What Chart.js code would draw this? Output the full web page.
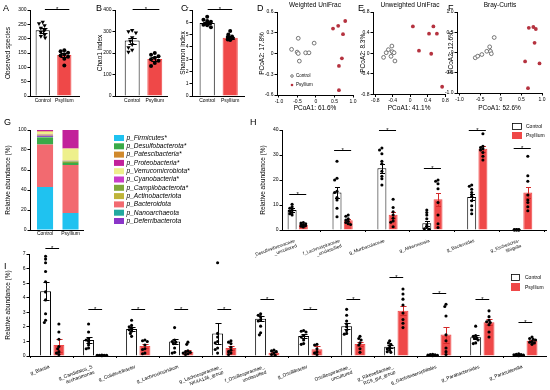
<!DOCTYPE html>
<html><head><meta charset="utf-8">
<script src="https://cdn.jsdelivr.net/npm/chart.js@4.4.1/dist/chart.umd.min.js"></script>
<style>
html,body{margin:0;padding:0;background:#fff;}
#root{position:relative;width:550px;height:390px;overflow:hidden;font-family:'Liberation Sans',Arial,sans-serif;}
canvas{position:absolute;}
.lt{position:absolute;font-size:9px;line-height:9px;color:#000;}
</style></head><body><div id="root"></div>
<script>
// ===================== DATA =====================
const groupNames = ['Control', 'Psyllium'];
// A: Observed species
const obsMean = [229, 143];
const obsSem = [8, 6];
const obsCtrl = [258, 253, 246, 237, 229, 222, 214, 208, 203];
const obsPsy = [160, 156, 151, 146, 141, 137, 130, 106];
// B: Chao1 index
const chaoMean = [258, 172];
const chaoSem = [14, 8];
const chaoCtrl = [306, 300, 294, 272, 256, 240, 226, 214, 205];
const chaoPsy = [200, 192, 185, 178, 171, 164, 154, 140];
// C: Shannon index
const shanMean = [5.95, 4.75];
const shanSem = [0.08, 0.08];
const shanCtrl = [6.45, 6.2, 6.1, 6.05, 5.95, 5.9, 5.8, 5.75, 5.6];
const shanPsy = [5.3, 5.0, 4.85, 4.8, 4.75, 4.7, 4.6, 4.55];
// D: Weighted UniFrac PCoA
const wufCtrl = [[-0.66, 0.06], [-0.48, 0.22], [-0.51, 0.02], [-0.48, 0.0], [-0.45, -0.11], [-0.28, 0.01], [-0.19, 0.01], [-0.05, 0.15]];
const wufPsy = [[0.46, 0.36], [0.60, 0.40], [0.79, 0.47], [0.73, 0.28], [0.70, -0.07], [0.62, -0.18], [0.62, -0.53]];
// E: Unweighted UniFrac PCoA
const uufCtrl = [[-0.61, -0.08], [-0.55, 0.01], [-0.50, 0.07], [-0.42, 0.14], [-0.41, 0.03], [-0.44, -0.06], [-0.37, 0.01], [-0.35, -0.15]];
const uufPsy = [[0.06, 0.52], [0.20, 0.05], [0.43, 0.38], [0.53, 0.52], [0.61, 0.38], [0.48, -0.01], [0.73, -0.65]];
// F: Bray-Curtis PCoA
const bcCtrl = [[-0.62, -0.13], [-0.56, -0.09], [-0.46, -0.05], [-0.34, 0.03], [-0.27, 0.14], [-0.25, 0.03], [-0.23, -0.03], [-0.16, 0.37]];
const bcPsy = [[0.68, 0.61], [0.79, 0.63], [0.85, 0.58], [0.82, 0.24], [0.59, -0.22], [0.94, -0.27], [0.66, -0.88]];
const pcoaTicks1 = [-1, -0.5, 0, 0.5, 1];
const pcoaLabels1 = ['-1.0', '-0.5', '0', '0.5', '1.0'];
const wufYTicks = [-0.6, -0.3, 0, 0.3, 0.6];
const wufYLabels = ['-0.6', '-0.3', '0', '0.3', '0.6'];
const uufTicks = [-0.8, -0.4, 0, 0.4, 0.8];
const uufLabels = ['-0.8', '-0.4', '0', '0.4', '0.8'];
// G: phylum composition
const phyla = ['p_Firmicutes*', 'p_Desulfobacterota*', 'p_Patescibacteria*', 'p_Proteobacteria*', 'p_Verrucomicrobiota*', 'p_Cyanobacteria*', 'p_Campilobacterota*', 'p_Actinobacteriota', 'p_Bacteroidota', 'p_Nanoarchaeota', 'p_Deferribacterota'];
const phylaColors = ['#1FC2F0', '#3AAA48', '#D0892C', '#C2219A', '#EEF08C', '#C93CC9', '#7FA83A', '#BFB43A', '#F26A70', '#22A9A0', '#8A35C8'];
const phylaCtrl = [43, 7, 0.6, 1.2, 2.5, 0.4, 0.3, 1.0, 42.5, 0.3, 1.2];
const phylaPsy = [17, 2, 0.1, 18.5, 12, 0.2, 1.5, 0.5, 48, 0.1, 0.1];
const stackOrder = [0, 8, 1, 6, 9, 10, 7, 5, 4, 2, 3];
// H: genera (%)
const hCats = [['f_Desulfovibrionaceae', '_uncultured'], ['f_Lachnospiraceae', '_unclassified'], 'g_Muribaculaceae', 'g_Akkermansia', 'g_Bacteroides', ['g_Escherichia-', 'Shigella']];
const hCtrlMean = [8, 15, 24.7, 2.7, 13.2, 0.1];
const hCtrlSem = [0.9, 2.2, 1.9, 1.0, 1.3, 0.05];
const hPsyMean = [2.0, 3.9, 6.1, 12.3, 32.5, 15.0];
const hPsySem = [0.3, 0.5, 1.3, 2.7, 1.1, 2.3];
const hCtrlPts = [[10.3, 9.3, 8.7, 8.0, 7.5, 7.0, 6.5, 6.0], [27.5, 20.7, 20, 15.5, 15, 13, 12, 8.7, 5.3], [32.8, 32, 30.5, 27.5, 26.5, 23.5, 21.5, 20.5, 18], [8, 7, 6, 4.5, 2, 1, 0.5, 0.3, 0.2], [18, 17.5, 16.3, 15, 13.5, 11.7, 9.7, 8, 6.5], [0.15, 0.12, 0.1, 0.1, 0.08, 0.06, 0.05, 0.05, 0.04]];
const hPsyPts = [[3, 2.8, 2.5, 2.2, 2, 1.7, 1.5, 1.2], [6, 5.5, 4.5, 4, 3.5, 3, 2.5, 2.2], [12.3, 9, 7.3, 6, 4.7, 3.6, 3.1, 1.3], [20, 19.5, 18.5, 16.5, 11, 6, 2.5, 1], [38.5, 33.5, 33, 32.5, 32, 31, 29.5, 28], [29.5, 21.7, 19.5, 14, 12, 11, 9.3, 7.7]];
const hSigY = [14.4, 32, 40, 24.8, 40, 33];
// I: genera (%)
const iCats = ['g_Blautia', ['g_Candidatus_S', 'accharimonas'], 'g_Colidextribacter', 'g_Lachnoclostridium', ['g_Lachnospiraceae_', 'NK4A136_group'], ['f_Oscillospiraceae_', 'unclassified'], 'g_Oscillibacter', ['Oscillospiraceae_', 'uncultured'], ['g_Rikenellaceae_', 'RC9_gut_group'], 'g_Gastranaerophilales', 'g_Parabacteroides', 'g_Parasutterella'];
const iCtrlMean = [4.45, 1.1, 1.85, 1.0, 1.55, 2.55, 1.37, 2.05, 0.64, 0.05, 1.28, 0.06];
const iCtrlSem = [0.6, 0.2, 0.12, 0.17, 0.7, 0.18, 0.13, 0.2, 0.1, 0.02, 0.13, 0.02];
const iPsyMean = [0.75, 0.05, 0.68, 0.3, 0.55, 0.22, 0.46, 0.82, 3.1, 1.47, 2.31, 1.05];
const iPsySem = [0.45, 0.01, 0.13, 0.1, 0.12, 0.05, 0.2, 0.15, 0.3, 0.55, 0.2, 0.06];
const iCtrlPts = [
  [6.85, 6.65, 6.4, 5.8, 5.1, 4.4, 3.85, 2.9, 2.45, 2.3],
  [2.2, 1.65, 1.2, 1.1, 1.0, 0.75, 0.55, 0.5],
  [2.45, 2.1, 2.0, 1.9, 1.8, 1.7, 1.55, 1.35],
  [1.95, 1.1, 1.0, 0.95, 0.85, 0.55, 0.25, 0.2],
  [6.4, 1.55, 1.3, 1.0, 0.9, 0.55, 0.45, 0.2],
  [2.9, 2.8, 2.7, 2.5, 2.4, 2.05, 1.6, 1.45],
  [1.75, 1.7, 1.65, 1.4, 1.3, 1.1, 0.85, 0.8],
  [3.2, 2.8, 2.4, 2.2, 2.0, 1.75, 1.55, 1.5],
  [1.05, 0.9, 0.8, 0.6, 0.5, 0.4, 0.3, 0.25],
  [0.12, 0.1, 0.08, 0.06, 0.05, 0.04, 0.03, 0.02],
  [2.05, 1.4, 1.35, 1.25, 1.2, 1.1, 0.9, 0.85],
  [0.15, 0.12, 0.1, 0.08, 0.06, 0.05, 0.03, 0.02]
];
const iPsyPts = [
  [2.2, 1.65, 1.15, 0.65, 0.5, 0.3, 0.2, 0.1],
  [0.06, 0.05, 0.05, 0.04, 0.04, 0.03, 0.03, 0.02],
  [1.1, 1.05, 1.0, 0.75, 0.5, 0.45, 0.2, 0.15],
  [0.95, 0.8, 0.35, 0.3, 0.25, 0.2, 0.15, 0.1],
  [1.05, 0.95, 0.85, 0.6, 0.4, 0.3, 0.2, 0.1],
  [0.4, 0.35, 0.3, 0.2, 0.1, 0.05],
  [0.8, 0.75, 0.5, 0.3, 0.2, 0.1],
  [1.35, 1.2, 1.1, 0.9, 0.75, 0.5, 0.25],
  [4.6, 4.25, 3.9, 3.5, 2.95, 2.5, 2.25, 1.95],
  [3.55, 3.4, 2.75, 1.45, 1.05, 0.55, 0.3, 0.1],
  [3.1, 2.7, 2.45, 2.35, 2.3, 2.15, 1.65, 1.3],
  [1.3, 1.2, 1.15, 1.1, 1.0, 0.95, 0.9, 0.8]
];
const iSigY = [7.43, 3.23, 3.23, 3.23, 3.23, 3.9, 3.23, 3.9, 5.4, 4.35, 3.9, 2.3];

// ===================== STYLE / LAYOUT =====================
const FONT = "'Liberation Sans', Arial, Helvetica, sans-serif";
Chart.defaults.font.family = FONT;
Chart.defaults.color = '#000';
Chart.defaults.animation = false;
const RED = '#EF4848', RED_DARK = '#D42A2A', PCOA_RED = '#B5323F';
const root = document.getElementById('root');

function mkCanvas(l, t, w, h) {
  const c = document.createElement('canvas');
  c.width = w; c.height = h;
  c.style.left = l + 'px'; c.style.top = t + 'px';
  c.style.width = w + 'px'; c.style.height = h + 'px';
  root.appendChild(c);
  return c;
}
function letter(t, x, y) {
  const d = document.createElement('div');
  d.className = 'lt'; d.textContent = t;
  d.style.left = x + 'px'; d.style.top = y + 'px';
  root.appendChild(d);
}

const deco = {
  id: 'deco',
  afterDatasetDraw(chart, args) {
    const ds = chart.data.datasets[args.index];
    if (!ds.sems) return;
    const ctx = chart.ctx, ys = chart.scales.y;
    ctx.save();
    ctx.strokeStyle = ds.errColor; ctx.lineWidth = 1;
    args.meta.data.forEach((bar, i) => {
      const m = ds.data[i].y, e = ds.sems[i];
      if (!e) return;
      const x = Math.round(bar.x) + 0.5;
      const hw = Math.max(2, bar.width * 0.28);
      const yt = Math.round(ys.getPixelForValue(m + e)) + 0.5;
      const yb = Math.round(ys.getPixelForValue(Math.max(ys.min, m - e))) + 0.5;
      ctx.beginPath();
      ctx.moveTo(x, yb); ctx.lineTo(x, yt);
      ctx.moveTo(x - hw, yt); ctx.lineTo(x + hw, yt);
      ctx.moveTo(x - hw, yb); ctx.lineTo(x + hw, yb);
      ctx.stroke();
    });
    ctx.restore();
  },
  afterDraw(chart, args, opts) {
    const ctx = chart.ctx, xs = chart.scales.x, ys = chart.scales.y;
    const ox = opts.ox || 0, oy = opts.oy || 0;
    ctx.save();
    (opts.sig || []).forEach(s => {
      const x1 = xs.getPixelForValue(s.x1), x2 = xs.getPixelForValue(s.x2);
      const y = Math.round(ys.getPixelForValue(s.y)) + 0.5;
      ctx.strokeStyle = '#000'; ctx.lineWidth = 1;
      ctx.beginPath(); ctx.moveTo(x1, y); ctx.lineTo(x2, y); ctx.stroke();
      ctx.fillStyle = '#000'; ctx.font = '6px ' + FONT;
      ctx.textAlign = 'center'; ctx.textBaseline = 'alphabetic';
      ctx.fillText('*', (x1 + x2) / 2, y + 1.5);
    });
    (opts.marks || []).forEach(m => {
      ctx.lineWidth = m.lw || 0.8;
      if (m.type === 'rect') {
        ctx.fillStyle = m.fill; ctx.fillRect(m.x - ox, m.y - oy, m.w, m.h);
        if (m.stroke) { ctx.strokeStyle = m.stroke; ctx.strokeRect(m.x - ox + 0.5, m.y - oy + 0.5, m.w - 1, m.h - 1); }
      } else {
        ctx.beginPath(); ctx.arc(m.x - ox, m.y - oy, m.r, 0, Math.PI * 2);
        ctx.fillStyle = m.fill; ctx.fill();
        if (m.stroke) { ctx.strokeStyle = m.stroke; ctx.stroke(); }
      }
    });
    (opts.texts || []).forEach(t => {
      ctx.fillStyle = t.color || '#000';
      ctx.font = (t.italic ? 'italic ' : '') + t.size + 'px ' + FONT;
      ctx.textAlign = t.align || 'left'; ctx.textBaseline = 'middle';
      ctx.fillText(t.t, t.x - ox, t.y - oy);
    });
    ctx.restore();
  }
};
Chart.register(deco);

// horizontal placement of dots (Prism-like swarm), capped to a maximum half-width
function swarm(vals, cx, xppu, yppu, minD, maxOff) {
  const placed = [], out = [];
  vals.forEach(v => {
    const py = v * yppu;
    let best = null;
    for (let k = 0; k < 60; k++) {
      const off = (k === 0 ? 0 : (k % 2 ? -1 : 1) * Math.ceil(k / 2)) * minD * 0.5;
      if (Math.abs(off) > maxOff) break;
      if (placed.every(p => Math.hypot(p[0] - off, p[1] - py) >= minD)) { best = off; break; }
    }
    if (best === null) best = ((placed.length % 3) - 1) * maxOff * 0.5;
    placed.push([best, py]); out.push(cx + best / xppu);
  });
  return out;
}

function xAxisCfg(o) {
  const ax = {
    type: 'linear', min: o.xmin, max: o.xmax, offset: false,
    ticks: { autoSkip: false, minRotation: o.rot || 0, maxRotation: o.rot || 0, padding: o.xpad, labelOffset: o.xlo || 0, font: { size: o.xfs }, color: '#000' },
    grid: { display: true, drawOnChartArea: false, drawTicks: true, tickLength: o.xtl, color: '#000', lineWidth: 1 },
    border: { display: true, color: '#000', width: 1 },
    afterFit: s => { s.height = o.xH; s.paddingLeft = 0; s.paddingRight = 0; }
  };
  if (o.cats) {
    ax.afterBuildTicks = s => { s.ticks = o.cats.map((c, i) => ({ value: i })); };
    ax.ticks.callback = (v, i) => o.cats[i];
  } else {
    ax.afterBuildTicks = s => { s.ticks = o.xticks.map(v => ({ value: v })); };
    ax.ticks.callback = (v, i) => o.xlabels[i];
  }
  if (o.xTitle) {
    const lh = o.xtfs * 1.2;
    ax.title = { display: true, text: o.xTitle, font: { size: o.xtfs }, color: '#000', padding: { top: 0, bottom: (o.oy + o.H) - o.xTitleY - lh / 2 } };
  }
  return ax;
}
function yAxisCfg(o) {
  const lh = o.ytfs * 1.2;
  const ax = {
    type: 'linear', min: o.ymin, max: o.ymax,
    ticks: { stepSize: o.ystep, font: { size: o.yfs }, padding: 1, color: '#000', autoSkip: false },
    grid: { display: true, drawOnChartArea: false, drawTicks: true, tickLength: 2.5, color: '#000', lineWidth: 1 },
    border: { display: true, color: '#000', width: 1 },
    title: { display: true, text: o.yTitle, font: { size: o.ytfs }, color: '#000', padding: { top: o.yTitleX - o.ox - lh / 2, bottom: 0 } },
    afterFit: s => { s.width = o.yW; s.paddingTop = 0; s.paddingBottom = 0; }
  };
  if (o.yticks) {
    ax.afterBuildTicks = s => { s.ticks = o.yticks.map(v => ({ value: v })); };
    ax.ticks.callback = (v, i) => o.ylabels[i];
  }
  return ax;
}
function frame(o) {
  o.W = o.yW + (o.R - o.L) + o.pr; o.H = o.pt + (o.B - o.T) + o.xH;
  o.ox = o.L - o.yW; o.oy = o.T - o.pt;
  return mkCanvas(o.ox, o.oy, o.W, o.H);
}
function baseOpts(o, decoOpts) {
  return {
    responsive: false, animation: false, devicePixelRatio: 1,
    layout: { padding: { top: o.pt, right: o.pr, left: 0, bottom: 0 } },
    plugins: { legend: { display: false }, tooltip: { enabled: false }, title: { display: false }, deco: Object.assign({ ox: o.ox, oy: o.oy }, decoOpts) },
    scales: { x: xAxisCfg(o), y: yAxisCfg(o) }
  };
}

function barPanel(o) {
  const cv = frame(o);
  const xppu = (o.R - o.L) / (o.xmax - o.xmin), yppu = (o.B - o.T) / (o.ymax - o.ymin);
  const datasets = [];
  o.series.forEach((s, si) => {
    const shift = o.grouped ? (si === 0 ? -1 : 1) * o.cp / 4 : 0;
    datasets.push({
      type: 'bar', label: s.label, data: s.means.map((m, i) => ({ x: s.xs[i], y: m })),
      backgroundColor: s.fill, borderColor: s.border, borderWidth: 1, grouped: o.grouped,
      categoryPercentage: o.cp, barPercentage: o.bp, order: 2, sems: s.sems, errColor: s.err
    });
    const pts = [];
    s.pts.forEach((arr, i) => {
      const px = swarm(arr, s.xs[i] + shift, xppu, yppu, o.minD, o.maxOff);
      arr.forEach((v, k) => pts.push({ x: px[k], y: v }));
    });
    datasets.push({
      type: 'scatter', data: pts, pointStyle: s.ps, pointRotation: s.rot || 0,
      pointRadius: s.r, pointBackgroundColor: '#000', pointBorderColor: '#000', pointBorderWidth: 0, order: 0, clip: false
    });
  });
  const sig = (o.sig || []);
  new Chart(cv, { type: 'bar', data: { datasets }, options: baseOpts(o, { sig, marks: o.marks, texts: o.texts }) });
}

function pcoaPanel(o) {
  const cv = frame(o);
  new Chart(cv, {
    type: 'scatter',
    data: { datasets: [
      { label: groupNames[0], data: o.ctrl.map(p => ({ x: p[0], y: p[1] })), pointStyle: 'circle', pointRadius: 1.9, pointBackgroundColor: '#fff', pointBorderColor: '#555', pointBorderWidth: 0.8, clip: false },
      { label: groupNames[1], data: o.psy.map(p => ({ x: p[0], y: p[1] })), pointStyle: 'circle', pointRadius: 1.9, pointBackgroundColor: PCOA_RED, pointBorderColor: PCOA_RED, pointBorderWidth: 0, clip: false }
    ] },
    options: baseOpts(o, { texts: o.texts, marks: o.marks })
  });
}

const common = { yfs: 5, ytfs: 6.5, xfs: 5 };

// ---- A ----
barPanel(Object.assign({}, common, {
  L: 30, R: 80, T: 10, B: 96, yW: 30, pt: 10, pr: 3, xH: 14,
  xmin: -0.59, xmax: 1.68, cats: groupNames, xtl: 0, xpad: 1.5,
  ymin: 0, ymax: 300, ystep: 50, yTitle: 'Observed species', yTitleX: 8,
  grouped: false, cp: 0.75, bp: 0.88, minD: 3.8, maxOff: 5,
  series: [
    { label: groupNames[0], xs: [0], means: [obsMean[0]], sems: [obsSem[0]], pts: [obsCtrl], fill: '#fff', border: '#000', err: '#000', ps: 'triangle', rot: 180, r: 2.5 },
    { label: groupNames[1], xs: [1], means: [obsMean[1]], sems: [obsSem[1]], pts: [obsPsy], fill: RED, border: RED, err: '#000', ps: 'circle', r: 2.0 }
  ],
  sig: [{ x1: 0.1, x2: 1.23, y: 302 }]
}));
// ---- B ----
barPanel(Object.assign({}, common, {
  L: 115, R: 168, T: 10, B: 96, yW: 22, pt: 10, pr: 3, xH: 14,
  xmin: -0.76, xmax: 1.54, cats: groupNames, xtl: 0, xpad: 1.5,
  ymin: 0, ymax: 400, ystep: 100, yTitle: 'Chao1 index', yTitleX: 100,
  grouped: false, cp: 0.75, bp: 0.88, minD: 3.8, maxOff: 5,
  series: [
    { label: groupNames[0], xs: [0], means: [chaoMean[0]], sems: [chaoSem[0]], pts: [chaoCtrl], fill: '#fff', border: '#000', err: '#000', ps: 'triangle', rot: 180, r: 2.5 },
    { label: groupNames[1], xs: [1], means: [chaoMean[1]], sems: [chaoSem[1]], pts: [chaoPsy], fill: RED, border: RED, err: '#000', ps: 'circle', r: 2.0 }
  ],
  sig: [{ x1: 0.02, x2: 1.2, y: 404 }]
}));
// ---- C ----
barPanel(Object.assign({}, common, {
  L: 192, R: 245, T: 10, B: 96, yW: 14, pt: 10, pr: 3, xH: 14,
  xmin: -0.66, xmax: 1.6, cats: groupNames, xtl: 0, xpad: 1.5,
  ymin: 0, ymax: 7, ystep: 1, yTitle: 'Shannon index', yTitleX: 183,
  grouped: false, cp: 0.75, bp: 0.88, minD: 3.8, maxOff: 5,
  series: [
    { label: groupNames[0], xs: [0], means: [shanMean[0]], sems: [shanSem[0]], pts: [shanCtrl], fill: '#fff', border: '#000', err: '#000', ps: 'circle', r: 2.0 },
    { label: groupNames[1], xs: [1], means: [shanMean[1]], sems: [shanSem[1]], pts: [shanPsy], fill: RED, border: RED, err: '#000', ps: 'circle', r: 2.0 }
  ],
  sig: [{ x1: 0.02, x2: 1.09, y: 7.06 }]
}));
// ---- D ----
pcoaPanel(Object.assign({}, common, {
  L: 277, R: 353, T: 12, B: 95, yW: 22, pt: 12, pr: 5, xH: 17,
  xmin: -1.054, xmax: 1.0, xticks: pcoaTicks1, xlabels: pcoaLabels1, xtl: 2.5, xpad: 1,
  xTitle: 'PCoA1: 61.6%', xtfs: 6.5, xTitleY: 108,
  ymin: -0.6, ymax: 0.6, yticks: wufYTicks, ylabels: wufYLabels, yTitle: 'PCoA2: 17.8%', yTitleX: 262,
  ctrl: wufCtrl, psy: wufPsy,
  texts: [{ t: 'Weighted UniFrac', x: 315, y: 5.5, size: 6.5, align: 'center' },
          { t: groupNames[0], x: 296, y: 76, size: 4.5 }, { t: groupNames[1], x: 296, y: 85, size: 4.5 }],
  marks: [{ type: 'circle', x: 292, y: 76, r: 1.3, fill: '#fff', stroke: '#555' }, { type: 'circle', x: 292, y: 85, r: 1.3, fill: PCOA_RED }]
}));
// ---- E ----
pcoaPanel(Object.assign({}, common, {
  L: 373, R: 446, T: 12, B: 94.5, yW: 15, pt: 12, pr: 4, xH: 17.5,
  xmin: -0.852, xmax: 0.8, xticks: uufTicks, xlabels: uufLabels, xtl: 2.5, xpad: 1,
  xTitle: 'PCoA1: 41.1%', xtfs: 6.5, xTitleY: 108,
  ymin: -0.8, ymax: 0.8, yticks: uufTicks, ylabels: uufLabels, yTitle: 'PCoA2: 8.3%', yTitleX: 363,
  ctrl: uufCtrl, psy: uufPsy,
  texts: [{ t: 'Unweighted UniFrac', x: 410, y: 5.5, size: 6.5, align: 'center' }]
}));
// ---- F ----
pcoaPanel(Object.assign({}, common, {
  L: 457, R: 542, T: 12, B: 93, yW: 14, pt: 12, pr: 6, xH: 19,
  xmin: -1.063, xmax: 1.0, xticks: pcoaTicks1, xlabels: pcoaLabels1, xtl: 2.5, xpad: 1,
  xTitle: 'PCoA1: 52.6%', xtfs: 6.5, xTitleY: 108,
  ymin: -1, ymax: 1, yticks: pcoaTicks1, ylabels: pcoaLabels1, yTitle: 'PCoA2: 12.6%', yTitleX: 451,
  ctrl: bcCtrl, psy: bcPsy,
  texts: [{ t: 'Bray-Curtis', x: 500, y: 5.5, size: 6.5, align: 'center' }]
}));
// ---- G ----
(function () {
  const o = Object.assign({}, common, {
    L: 30, R: 83, T: 130, B: 230, yW: 30, pt: 8, pr: 142, xH: 12,
    xmin: -0.59, xmax: 1.49, cats: groupNames, xtl: 0, xpad: 0.5,
    ymin: 0, ymax: 100, ystep: 20, yTitle: 'Relative abundance (%)', yTitleX: 8
  });
  const cv = frame(o);
  const datasets = stackOrder.map(k => ({
    type: 'bar', label: phyla[k], data: [{ x: 0, y: phylaCtrl[k] }, { x: 1, y: phylaPsy[k] }],
    backgroundColor: phylaColors[k], borderWidth: 0, categoryPercentage: 0.7, barPercentage: 0.9
  }));
  const marks = [], texts = [];
  phyla.forEach((p, i) => {
    marks.push({ type: 'rect', x: 114, y: 135 + 8.3 * i, w: 10, h: 6, fill: phylaColors[i] });
    texts.push({ t: p, x: 126.5, y: 138 + 8.3 * i, size: 6.6, italic: true });
  });
  const opts = baseOpts(o, { marks, texts });
  opts.scales.x.stacked = true; opts.scales.y.stacked = true;
  new Chart(cv, { type: 'bar', data: { datasets }, options: opts });
})();
// ---- H ----
barPanel(Object.assign({}, common, {
  L: 282, R: 550, T: 130, B: 230, yW: 27, pt: 12, pr: 0, xH: 40,
  xmin: -0.35, xmax: 5.53, cats: hCats, xtl: 2, xpad: 6, rot: 20, xlo: -3, xfs: 4.6,
  ymin: 0, ymax: 40, ystep: 10, yTitle: 'Relative abundance (%)', yTitleX: 263,
  grouped: true, cp: 0.5, bp: 0.8, minD: 2.4, maxOff: 4.5,
  series: [
    { label: groupNames[0], xs: hCats.map((c, i) => i), means: hCtrlMean, sems: hCtrlSem, pts: hCtrlPts, fill: '#fff', border: '#000', err: '#000', ps: 'circle', r: 1.55 },
    { label: groupNames[1], xs: hCats.map((c, i) => i), means: hPsyMean, sems: hPsySem, pts: hPsyPts, fill: RED, border: RED, err: RED_DARK, ps: 'circle', r: 1.55 }
  ],
  sig: hSigY.map((y, i) => ({ x1: i - 0.19, x2: i + 0.19, y })),
  marks: [{ type: 'rect', x: 512, y: 123, w: 10, h: 7, fill: '#fff', stroke: '#000' }, { type: 'rect', x: 512, y: 132, w: 10, h: 7, fill: RED }],
  texts: [{ t: groupNames[0], x: 526, y: 126.5, size: 5 }, { t: groupNames[1], x: 526, y: 135.5, size: 5 }]
}));
// ---- I ----
barPanel(Object.assign({}, common, {
  L: 29, R: 550, T: 254, B: 356, yW: 29, pt: 10, pr: 0, xH: 34,
  xmin: -0.54, xmax: 11.48, cats: iCats, xtl: 2, xpad: 6, rot: 20, xlo: -3, xfs: 4.8,
  ymin: 0, ymax: 7, ystep: 1, yTitle: 'Relative abundance (%)', yTitleX: 8,
  grouped: true, cp: 0.62, bp: 0.82, minD: 2.4, maxOff: 5,
  series: [
    { label: groupNames[0], xs: iCats.map((c, i) => i), means: iCtrlMean, sems: iCtrlSem, pts: iCtrlPts, fill: '#fff', border: '#000', err: '#000', ps: 'circle', r: 1.55 },
    { label: groupNames[1], xs: iCats.map((c, i) => i), means: iPsyMean, sems: iPsySem, pts: iPsyPts, fill: RED, border: RED, err: RED_DARK, ps: 'circle', r: 1.55 }
  ],
  sig: iSigY.map((y, i) => ({ x1: i - 0.16, x2: i + 0.16, y })),
  marks: [{ type: 'rect', x: 511, y: 274, w: 9, h: 7, fill: '#fff', stroke: '#000' }, { type: 'rect', x: 511, y: 283, w: 9, h: 8, fill: RED }],
  texts: [{ t: groupNames[0], x: 525, y: 277.5, size: 5 }, { t: groupNames[1], x: 525, y: 287.5, size: 5 }]
}));

// panel letters
[['A', 3, 4], ['B', 96, 4], ['C', 181, 4], ['D', 257, 4], ['E', 358, 4], ['F', 448, 4], ['G', 4, 118], ['H', 250, 118], ['I', 4, 262]].forEach(l => letter(l[0], l[1], l[2]));
</script></body></html>
